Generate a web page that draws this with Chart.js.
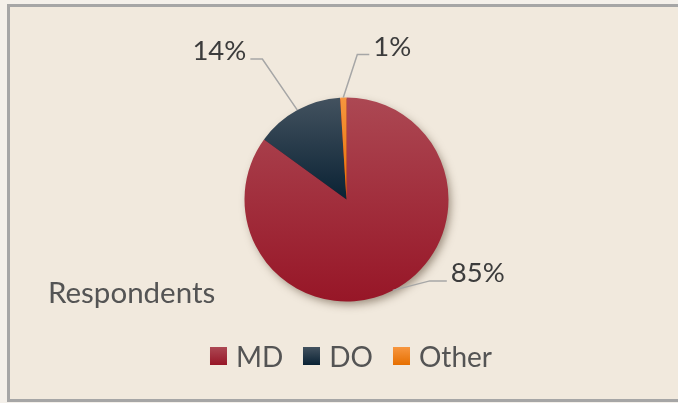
<!DOCTYPE html>
<html>
<head>
<meta charset="utf-8">
<script src="https://cdn.jsdelivr.net/npm/chart.js@4.4.1/dist/chart.umd.min.js"></script>
<style>
    html, body { margin: 0; padding: 0; background: #F4F0EA; }
    .frame {
        position: absolute; left: 7px; top: 4px; width: 680px; height: 392px;
        border: 3px solid #A6A6A6; border-right: none; background: #F1E9DD;
    }
    #pie { position: absolute; left: 0; top: 0; }
    .title {
        position: absolute; left: 48px; top: 274px;
        font: 29.5px Lato, sans-serif; color: #545454; white-space: nowrap;
    }
    .legend {
        position: absolute; left: 351px; top: 339px; transform: translateX(-50%);
        display: flex; align-items: center; white-space: nowrap;
        font: 28px Lato, sans-serif; color: #545454;
    }
    .legend .item { display: flex; align-items: center; margin: 0 10px; }
    .legend .swatch { width: 17px; height: 18px; margin-right: 9px; }
</style>
</head>
<body>
<div class="frame"></div>
<canvas id="pie" width="678" height="403"></canvas>
<div class="title">Respondents</div>
<div class="legend" id="legend"></div>
<script>
const categories = ["MD", "DO", "Other"];
const shares = [85, 14, 1];
const pctLabels = ["85%", "14%", "1%"];
const topColors = ["#AC4853", "#43525F", "#F7963F"];
const bottomColors = ["#971627", "#0A2234", "#E66F00"];

// leader line bends, relative to the slice edge point
const leaders = [
    { dx: 37, dy: -9.5, hx: 17 },
    { dx: -35, dy: -51, hx: -12 },
    { dx: 14, dy: -43, hx: 12 }
];

// vertical extent of one slice, so each slice gets its own gradient
function sliceSpan(area, i) {
    const cx = (area.left + area.right) / 2, cy = (area.top + area.bottom) / 2;
    const r = Math.min(area.width, area.height) / 2;
    const total = shares.reduce((a, b) => a + b, 0);
    const before = shares.slice(0, i).reduce((a, b) => a + b, 0);
    const a0 = -Math.PI / 2 + (before / total) * Math.PI * 2;
    const a1 = a0 + (shares[i] / total) * Math.PI * 2;
    const ys = [cy, cy + Math.sin(a0) * r, cy + Math.sin(a1) * r];
    [-Math.PI / 2, Math.PI / 2, Math.PI * 1.5].forEach(t => {
        if (t >= a0 && t <= a1) ys.push(cy + Math.sin(t) * r);
    });
    return [Math.min(...ys), Math.max(...ys)];
}

function sliceFill(ctx) {
    const i = ctx.dataIndex;
    const area = ctx.chart.chartArea;
    if (!area) return bottomColors[i];
    const [y0, y1] = sliceSpan(area, i);
    const g = ctx.chart.ctx.createLinearGradient(0, y0, 0, y1);
    g.addColorStop(0, topColors[i]);
    g.addColorStop(1, bottomColors[i]);
    return g;
}

const pieShadow = {
    id: "pieShadow",
    beforeDatasetsDraw(chart) {
        const arc = chart.getDatasetMeta(0).data[0];
        if (!arc) return;
        const { x, y, outerRadius } = arc.getProps(["x", "y", "outerRadius"], true);
        const c = chart.ctx;
        c.save();
        c.shadowColor = "rgba(70,50,30,0.5)";
        c.shadowBlur = 9;
        c.shadowOffsetX = 3;
        c.shadowOffsetY = 4;
        c.beginPath();
        c.arc(x, y, outerRadius - 1, 0, Math.PI * 2);
        c.fillStyle = "#9A1A2B";
        c.fill();
        c.restore();
    }
};

const leaderLabels = {
    id: "leaderLabels",
    afterDatasetsDraw(chart) {
        const c = chart.ctx;
        chart.getDatasetMeta(0).data.forEach((arc, i) => {
            const p = arc.getProps(["x", "y", "startAngle", "endAngle", "outerRadius"], true);
            const mid = (p.startAngle + p.endAngle) / 2;
            const ex = p.x + Math.cos(mid) * p.outerRadius;
            const ey = p.y + Math.sin(mid) * p.outerRadius;
            const l = leaders[i];
            const bx = ex + l.dx, by = ey + l.dy;
            c.save();
            c.strokeStyle = "#A6A6A6";
            c.lineWidth = 1.5;
            c.beginPath();
            c.moveTo(ex, ey);
            c.lineTo(bx, by);
            c.lineTo(bx + l.hx, by);
            c.stroke();
            c.fillStyle = "#3C3C3C";
            c.font = "27.5px Lato, sans-serif";
            c.textBaseline = "alphabetic";
            c.textAlign = l.hx > 0 ? "left" : "right";
            c.fillText(pctLabels[i], bx + l.hx + (l.hx > 0 ? 4 : -4), by + 1);
            c.restore();
        });
    }
};

new Chart(document.getElementById("pie"), {
    type: "pie",
    data: {
        labels: categories,
        datasets: [{ data: shares, backgroundColor: sliceFill, borderWidth: 0 }]
    },
    options: {
        responsive: false,
        animation: false,
        layout: { padding: { left: 244.5, right: 229.5, top: 97.5, bottom: 101.5 } },
        plugins: { legend: { display: false }, tooltip: { enabled: false } }
    },
    plugins: [pieShadow, leaderLabels]
});

const legend = document.getElementById("legend");
categories.forEach((name, i) => {
    const item = document.createElement("div");
    item.className = "item";
    const sw = document.createElement("span");
    sw.className = "swatch";
    sw.style.background = `linear-gradient(${topColors[i]}, ${bottomColors[i]})`;
    const txt = document.createElement("span");
    txt.textContent = name;
    item.appendChild(sw);
    item.appendChild(txt);
    legend.appendChild(item);
});
</script>
</body>
</html>
